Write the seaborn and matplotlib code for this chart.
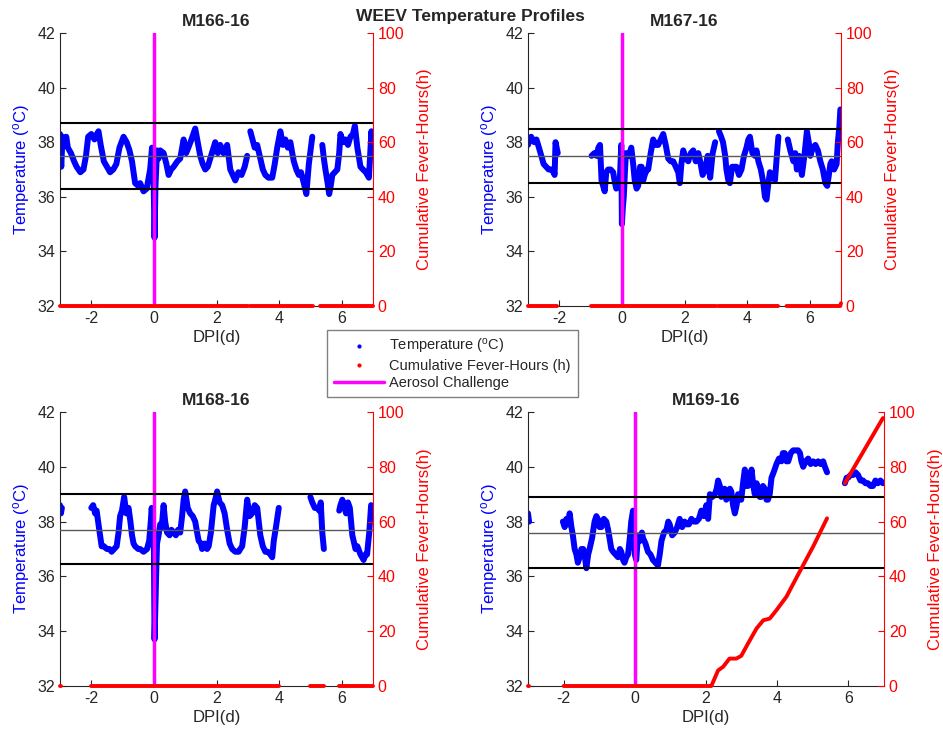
import numpy as np
import pandas as pd
import matplotlib
matplotlib.use("Agg")
import matplotlib.pyplot as plt
import seaborn as sns
from matplotlib.lines import Line2D

nan = np.nan

# ---------------- data ----------------
panel_names = ["M166-16", "M167-16", "M168-16", "M169-16"]
dpi_ticks = [-2, 0, 2, 4, 6]
temp_ticks = [32, 34, 36, 38, 40, 42]
fever_ticks = [0, 20, 40, 60, 80, 100]

# threshold lines (upper, mid, lower) per animal
thr166 = [38.7, 37.5, 36.3]
thr167 = [38.5, 37.5, 36.5]
thr168 = [39.0, 37.7, 36.45]
thr169 = [38.9, 37.6, 36.3]

t166 = [-3.0, -2.96, -2.92, -2.85, -2.8, -2.75, -2.65, -2.55, -2.47, -2.35, -2.25, -2.17, -2.1, -2.0, -1.9,
        -1.82, -1.77, -1.7, -1.6, -1.5, -1.4, -1.3, -1.2, -1.1, -0.97, -0.87, -0.78, -0.7, -0.6, -0.5,
        -0.44, -0.33, -0.23, -0.12, -0.06, -0.02, 0.02, 0.05, 0.1, 0.15, 0.2, 0.31, 0.4, 0.47, 0.55,
        0.63, 0.75, 0.84, 0.95, 1.03, 1.1, 1.2, 1.32, 1.4, 1.48, 1.56, 1.64, 1.72, 1.8, 1.88,
        1.96, 2.04, 2.12, 2.22, 2.34, 2.44, 2.52, 2.6, 2.7, 2.8, 2.9, 2.98, 3.03, 3.08, 3.15,
        3.22, 3.3, 3.4, 3.48, 3.56, 3.66, 3.78, 3.86, 3.94, 4.04, 4.12, 4.2, 4.28, 4.36, 4.42,
        4.47, 4.55, 4.63, 4.7, 4.79, 4.87, 4.95, 5.06, 5.2, 5.38, 5.43, 5.48, 5.55, 5.6, 5.65,
        5.7, 5.78, 5.86, 5.92, 5.96, 6.04, 6.12, 6.2, 6.28, 6.36, 6.42, 6.5, 6.6, 6.68, 6.77,
        6.87, 6.95, 7.0]
temp166 = [38.3, 37.1, 38.2, 37.9, 38.2, 37.8, 37.6, 37.3, 37.1, 36.9, 37.0, 37.5, 38.2, 38.3, 38.1,
           38.3, 38.4, 37.9, 37.3, 37.1, 36.9, 37.0, 37.2, 37.8, 38.2, 38.0, 37.7, 37.3, 36.5, 36.4,
           36.5, 36.2, 36.3, 37.0, 37.8, 37.5, 34.5, 36.4, 37.7, 37.4, 37.7, 37.6, 37.2, 36.8, 37.0,
           37.1, 37.3, 37.4, 38.1, 37.6, 37.8, 38.1, 38.5, 38.0, 37.5, 37.2, 37.0, 37.1, 37.4, 37.7,
           38.0, 37.6, 37.9, 37.6, 37.9, 37.0, 36.8, 36.6, 36.9, 36.8, 37.1, 37.5, nan, 38.4, 38.1,
           37.8, 37.9, 37.4, 37.0, 36.8, 36.7, 36.7, 37.2, 37.8, 38.4, 37.9, 38.1, 37.8, 38.0, 37.6,
           37.3, 37.0, 36.8, 36.9, 36.5, 36.1, 37.2, 38.2, nan, 37.9, 37.4, 37.0, 36.5, 36.1, 36.4,
           36.8, 36.9, 37.0, 37.6, 38.3, 38.0, 38.1, 37.9, 38.2, 38.3, 38.6, 37.8, 37.1, 37.0, 36.9,
           36.7, 38.4, 37.5]
ft166 = [-3.0, 3.0, 3.03, 3.06, 5.08, 5.2, 5.32, 7.0]
fever166 = [0, 0, nan, 0, 0, nan, 0, 0]

t167 = [-3.0, -2.95, -2.9, -2.8, -2.73, -2.65, -2.6, -2.5, -2.42, -2.34, -2.25, -2.18, -2.15, -2.12, -2.05,
        -1.5, -0.97, -0.88, -0.81, -0.75, -0.7, -0.65, -0.55, -0.5, -0.44, -0.36, -0.28, -0.22, -0.18, -0.1,
        -0.07, -0.02, 0.0, 0.03, 0.06, 0.1, 0.13, 0.22, 0.3, 0.36, 0.41, 0.47, 0.52, 0.58, 0.63,
        0.68, 0.73, 0.8, 0.84, 0.92, 1.0, 1.08, 1.16, 1.24, 1.32, 1.4, 1.48, 1.56, 1.64, 1.72,
        1.8, 1.85, 1.9, 1.96, 2.04, 2.12, 2.2, 2.28, 2.36, 2.44, 2.5, 2.58, 2.66, 2.74, 2.82,
        2.9, 2.98, 3.04, 3.1, 3.17, 3.23, 3.3, 3.34, 3.4, 3.45, 3.52, 3.6, 3.66, 3.74, 3.82,
        3.9, 3.98, 4.04, 4.09, 4.17, 4.25, 4.3, 4.36, 4.44, 4.52, 4.57, 4.62, 4.68, 4.73, 4.8,
        4.89, 4.95, 5.0, 5.15, 5.3, 5.38, 5.48, 5.54, 5.59, 5.66, 5.75, 5.83, 5.91, 5.97, 6.02,
        6.1, 6.18, 6.26, 6.34, 6.42, 6.5, 6.56, 6.6, 6.66, 6.7, 6.78, 6.86, 6.9, 6.95, 6.98]
temp167 = [37.9, 38.1, 38.2, 38.0, 38.1, 37.8, 37.6, 37.2, 37.1, 37.0, 37.0, 36.9, 36.8, 38.0, 37.6,
           nan, 37.5, 37.6, 37.5, 37.8, 37.9, 36.6, 36.2, 36.9, 37.0, 37.0, 36.9, 36.5, 36.3, 36.4,
           36.5, 37.9, 35.0, 35.6, 36.0, 37.0, 37.6, 37.5, 37.8, 37.2, 36.6, 36.3, 36.4, 37.1, 37.1,
           36.6, 36.8, 37.0, 37.0, 37.6, 38.1, 37.9, 37.9, 38.1, 38.3, 37.9, 37.4, 37.3, 37.3, 37.1,
           36.9, 36.5, 37.2, 37.7, 37.4, 37.3, 37.6, 37.7, 37.3, 37.6, 37.3, 36.8, 37.0, 37.5, 36.7,
           37.6, 38.0, nan, 38.4, 38.2, 38.0, 37.5, 37.0, 36.6, 36.5, 37.1, 37.1, 37.1, 36.8, 37.0,
           37.5, 37.8, 38.1, 38.2, 37.6, 37.5, 37.7, 37.3, 37.0, 36.5, 36.0, 35.9, 36.5, 36.9, 36.8,
           36.6, 37.5, 38.2, nan, 38.1, 37.7, 37.3, 37.6, 37.0, 37.5, 36.8, 37.5, 38.4, 38.0, 37.5,
           37.8, 37.9, 37.7, 37.3, 37.0, 36.5, 36.4, 36.7, 37.2, 37.3, 37.0, 37.2, 38.0, 38.6, 39.2]
ft167 = [-3.0, -2.08, -1.5, -1.0, 3.02, 3.05, 3.08, 5.0, 5.13, 5.26, 6.97, 7.0]
fever167 = [0, 0, nan, 0, 0, nan, 0, 0, nan, 0, 0, 1]

t168 = [-3.0, -2.97, -2.94, -2.5, -2.0, -1.94, -1.88, -1.83, -1.77, -1.72, -1.67, -1.6, -1.5, -1.42, -1.35,
        -1.27, -1.19, -1.13, -1.08, -1.02, -0.95, -0.88, -0.81, -0.75, -0.7, -0.65, -0.6, -0.5, -0.44, -0.33,
        -0.22, -0.15, -0.1, -0.07, 0.0, 0.02, 0.05, 0.07, 0.1, 0.15, 0.2, 0.25, 0.31, 0.36, 0.42,
        0.5, 0.56, 0.63, 0.7, 0.77, 0.84, 0.9, 0.95, 1.0, 1.08, 1.16, 1.24, 1.32, 1.38, 1.43,
        1.5, 1.54, 1.62, 1.7, 1.75, 1.82, 1.91, 1.96, 2.02, 2.1, 2.18, 2.26, 2.34, 2.42, 2.5,
        2.6, 2.71, 2.76, 2.82, 2.9, 2.98, 3.06, 3.14, 3.22, 3.3, 3.35, 3.4, 3.48, 3.56, 3.64,
        3.72, 3.78, 3.83, 3.9, 3.99, 4.5, 5.0, 5.06, 5.14, 5.22, 5.28, 5.33, 5.38, 5.43, 5.65,
        5.92, 5.96, 6.02, 6.07, 6.14, 6.2, 6.26, 6.3, 6.34, 6.4, 6.44, 6.5, 6.6, 6.65, 6.7,
        6.76, 6.81, 6.88, 6.94]
temp168 = [38.6, 38.3, 38.5, nan, 38.5, 38.6, 38.3, 38.4, 37.9, 37.5, 37.1, 37.1, 37.0, 37.0, 36.9,
           37.0, 37.1, 37.6, 38.2, 38.4, 38.9, 38.3, 38.5, 38.0, 37.5, 37.2, 37.1, 37.0, 37.0, 36.9,
           37.0, 37.3, 38.0, 38.5, 37.0, 33.7, 35.0, 36.0, 37.2, 37.5, 37.9, 37.8, 38.6, 38.0, 37.6,
           37.5, 37.7, 37.6, 37.5, 37.7, 37.6, 38.2, 38.8, 39.1, 38.5, 38.3, 38.2, 38.0, 37.6, 37.3,
           37.2, 37.0, 37.2, 37.0, 37.1, 37.6, 38.6, 38.8, 39.1, 38.7, 38.6, 38.3, 37.7, 37.2, 37.0,
           36.9, 36.9, 37.0, 37.1, 37.8, 38.8, 38.2, 38.3, 38.6, 38.5, 38.0, 37.5, 37.1, 36.9, 36.9,
           36.8, 36.7, 37.3, 37.8, 38.5, nan, 38.9, 38.7, 38.5, 38.5, 38.4, 38.7, 37.6, 37.0, nan,
           38.4, 38.6, 38.8, 38.6, 38.3, 38.7, 38.5, 38.0, 37.5, 37.2, 37.0, 37.1, 36.8, 36.7, 36.6,
           36.8, 36.8, 37.6, 38.6]
ft168 = [-3.0, -2.97, -2.5, -2.0, 4.0, 4.5, 5.0, 5.45, 5.65, 5.9, 7.0]
fever168 = [0, 0, nan, 0, 0, nan, 0, 0, nan, 0, 0]

t169 = [-3.0, -2.97, -2.5, -2.02, -1.97, -1.92, -1.87, -1.83, -1.78, -1.74, -1.69, -1.64, -1.6, -1.55, -1.5,
        -1.45, -1.4, -1.36, -1.31, -1.27, -1.2, -1.13, -1.08, -1.04, -0.99, -0.94, -0.87, -0.8, -0.75, -0.71,
        -0.66, -0.61, -0.54, -0.47, -0.42, -0.38, -0.33, -0.29, -0.24, -0.19, -0.14, -0.1, -0.05, 0.0, 0.04,
        0.09, 0.15, 0.2, 0.23, 0.3, 0.37, 0.44, 0.51, 0.58, 0.65, 0.7, 0.75, 0.82, 0.89, 0.94,
        0.98, 1.05, 1.12, 1.19, 1.26, 1.33, 1.4, 1.45, 1.52, 1.59, 1.66, 1.73, 1.8, 1.87, 1.94,
        2.01, 2.06, 2.11, 2.18, 2.25, 2.3, 2.34, 2.39, 2.43, 2.48, 2.52, 2.57, 2.62, 2.67, 2.71,
        2.76, 2.81, 2.86, 2.9, 2.95, 2.99, 3.04, 3.09, 3.14, 3.18, 3.23, 3.28, 3.33, 3.37, 3.42,
        3.47, 3.51, 3.55, 3.6, 3.65, 3.7, 3.74, 3.79, 3.84, 3.9, 3.98, 4.05, 4.12, 4.16, 4.21,
        4.26, 4.31, 4.38, 4.45, 4.52, 4.59, 4.64, 4.68, 4.73, 4.8, 4.87, 4.94, 5.01, 5.08, 5.15,
        5.22, 5.29, 5.34, 5.4, 5.65, 5.9, 5.95, 5.99, 6.06, 6.13, 6.2, 6.27, 6.34, 6.41, 6.48,
        6.55, 6.62, 6.69, 6.76, 6.83, 6.9, 6.97]
temp169 = [38.3, 38.0, nan, 38.0, 37.8, 38.1, 37.9, 38.3, 37.8, 37.5, 37.0, 36.8, 36.5, 36.7, 37.0,
           37.0, 36.7, 36.3, 36.8, 37.0, 37.4, 38.0, 38.2, 38.1, 37.8, 37.8, 38.1, 38.0, 37.7, 37.4,
           37.0, 36.9, 36.8, 36.7, 37.0, 36.9, 36.6, 36.5, 36.7, 36.8, 37.4, 38.0, 38.4, 36.8, 36.6,
           37.5, 37.3, 37.6, 37.4, 37.2, 36.9, 36.8, 36.6, 36.5, 36.4, 36.8, 37.3, 37.6, 37.7, 38.0,
           37.9, 37.5, 37.6, 37.8, 38.1, 37.8, 38.0, 37.9, 37.9, 38.1, 38.0, 38.0, 38.1, 38.4, 38.2,
           38.6, 38.1, 39.0, 38.9, 39.0, 39.2, 39.5, 39.3, 38.9, 39.0, 39.2, 38.8, 38.9, 39.2, 39.1,
           38.6, 38.3, 38.6, 39.0, 38.8, 38.8, 39.4, 39.9, 39.3, 39.3, 39.6, 39.9, 39.3, 39.0, 39.4,
           39.2, 38.9, 38.9, 39.3, 39.2, 38.8, 38.8, 39.0, 39.6, 39.8, 40.1, 40.3, 40.2, 40.5, 40.5,
           40.2, 40.2, 40.5, 40.6, 40.6, 40.6, 40.5, 40.2, 40.0, 40.2, 40.3, 40.1, 40.2, 40.1, 40.2,
           40.1, 40.2, 40.0, 39.8, nan, 39.4, 39.6, 39.6, 39.7, 39.7, 39.8, 39.7, 39.5, 39.5, 39.4,
           39.4, 39.3, 39.3, 39.5, 39.4, 39.5, 39.4]
ft169 = [-3.0, -2.98, -2.5, -2.0, 2.15, 2.34, 2.48, 2.66, 2.85, 2.99, 3.18, 3.42, 3.61, 3.79, 3.98,
         4.26, 4.63, 5.01, 5.4, 5.65, 5.9, 6.97]
fever169 = [0, 0, nan, 0, 0, 5.7, 7.0, 10.0, 10.0, 11.0, 15.5, 21.0, 24.0, 24.6, 27.7,
            32.6, 41.7, 50.9, 61.2, nan, 74.0, 97.8]

# ---------------- style ----------------
sns.set_style("ticks")
plt.rcParams["font.family"] = ["Liberation Sans", "DejaVu Sans"]
plt.rcParams["mathtext.default"] = "regular"
plt.rcParams["axes.unicode_minus"] = False
plt.rcParams["xtick.direction"] = "in"
plt.rcParams["ytick.direction"] = "in"

DARK = "0.15"
BLUE = (0, 0, 1)
RED = (1, 0, 0)
MAG = (1, 0, 1)


def seg_frame(t, v):
    df = pd.DataFrame({"t": t, "v": v})
    df["seg"] = df["v"].isna().cumsum()
    return df.dropna()


fig = plt.figure(figsize=(9.43, 7.36), dpi=100)
W, H = 943.0, 736.0
boxes = [(60, 33, 373, 306), (528, 33, 841, 306), (60, 412, 373, 686), (528, 412, 884, 686)]
temps = [(t166, temp166), (t167, temp167), (t168, temp168), (t169, temp169)]
fevers = [(ft166, fever166), (ft167, fever167), (ft168, fever168), (ft169, fever169)]
thrs = [thr166, thr167, thr168, thr169]

for i, (l, t, r, b) in enumerate(boxes):
    ax = fig.add_axes([l / W, 1 - b / H, (r - l) / W, (b - t) / H])
    ax2 = ax.twinx()

    dft = seg_frame(*temps[i])
    sns.lineplot(data=dft, x="t", y="v", units="seg", estimator=None, sort=False,
                 color=BLUE, lw=4.3, ax=ax, legend=False, zorder=2)
    ax.axvline(0, color=MAG, lw=2.5, zorder=3)
    up, mid, low = thrs[i]
    ax.axhline(up, color="black", lw=1.5, zorder=4)
    ax.axhline(mid, color="0.35", lw=1.0, zorder=4)
    ax.axhline(low, color="black", lw=1.5, zorder=4)

    dff = seg_frame(*fevers[i])
    sns.lineplot(data=dff, x="t", y="v", units="seg", estimator=None, sort=False,
                 color=RED, lw=2.8, ax=ax2, legend=False, clip_on=False)

    ax.set_xlim(-3, 7)
    ax.set_ylim(32, 42)
    ax.set_xticks(dpi_ticks)
    ax.set_yticks(temp_ticks)
    ax2.set_ylim(0, 100)
    ax2.set_yticks(fever_ticks)

    ax.set_xlabel("DPI(d)", fontsize=12, color=DARK, labelpad=3)
    ax.set_ylabel("Temperature ($^{o}$C)", fontsize=12, color=BLUE, labelpad=4)
    ax2.set_ylabel("Cumulative Fever-Hours(h)", fontsize=12, color=RED, labelpad=9)
    ax.set_title(panel_names[i], fontsize=12.5, fontweight="bold", pad=5)

    ax.tick_params(axis="both", labelsize=11.5, colors=DARK, length=4, width=0.8)
    ax2.tick_params(axis="y", labelsize=11.5, colors=RED, length=4, width=0.8)

    for sp in ["top", "right"]:
        ax.spines[sp].set_visible(False)
    for sp in ["top", "left", "bottom"]:
        ax2.spines[sp].set_visible(False)
    ax.spines["left"].set_color(DARK)
    ax.spines["bottom"].set_color(DARK)
    ax2.spines["right"].set_color(RED)
    for sp in ax.spines.values():
        sp.set_linewidth(0.8)
    ax2.spines["right"].set_linewidth(0.8)

fig.text(470 / W, 1 - 17 / H, "WEEV Temperature Profiles", ha="center", va="center",
         fontsize=12.5, fontweight="bold")

handles = [
    Line2D([], [], color=BLUE, marker=".", ls="none", markersize=4),
    Line2D([], [], color=RED, marker=".", ls="none", markersize=4),
    Line2D([], [], color=MAG, lw=2.5),
]
labels = ["Temperature ($^{o}$C)", "Cumulative Fever-Hours (h)", "Aerosol Challenge"]
fig.legend(handles, labels, loc="upper left", bbox_to_anchor=(327 / W, 1 - 330 / H),
           fontsize=10.5, frameon=True, fancybox=False, edgecolor="0.5", framealpha=1,
           handlelength=3.4, borderpad=0.5, labelspacing=0.2, handletextpad=0.35,
           borderaxespad=0)

fig.savefig("out.png", dpi=100)
